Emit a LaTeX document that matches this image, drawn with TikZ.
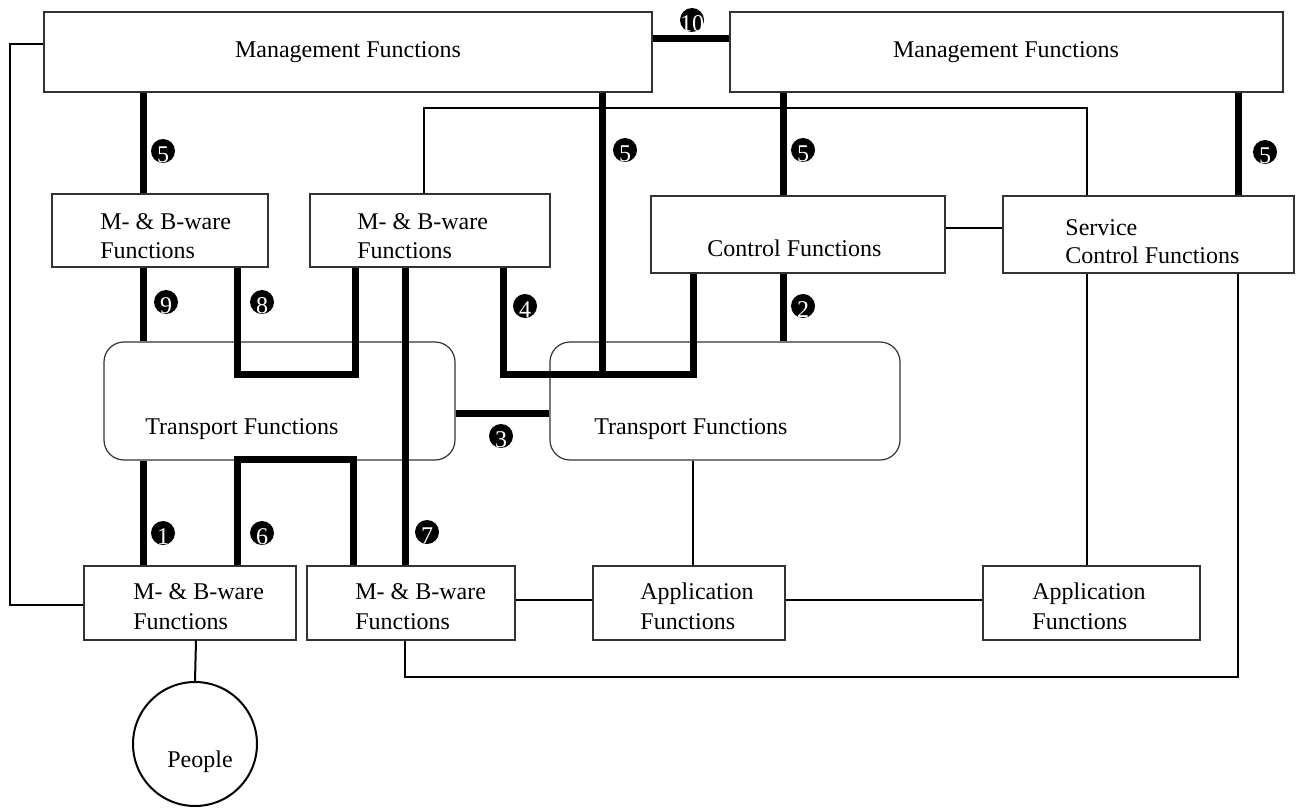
\documentclass[tikz,border=0pt]{standalone}
\usepackage{fontspec}
\setmainfont{Liberation Serif}
\newcommand\mybox[6]{\node[#1, minimum width={(#5-#3)*0.5pt}, minimum height={(#6-#4)*0.5pt}] (#2) at ({(#3+#5)/2},{(#4+#6)/2}) {};}
\begin{document}
\begin{tikzpicture}[x=0.5pt,y=-0.5pt,
  box/.style={draw=black!80, line width=0.6pt, fill=white, inner sep=0pt, rectangle},
  tbox/.style={box, rounded corners=10pt},
  lbl/.style={font=\fontsize{12pt}{14pt}\selectfont, inner sep=0pt, anchor=base west},
  clbl/.style={lbl, anchor=base},
  conn/.style={line width=1pt},
  fat/.style={line width=3.5pt},
  num/.style={circle, fill=black, minimum size=12pt, inner sep=0pt},
  numtxt/.style={text=white, font=\fontsize{12pt}{14pt}\selectfont, inner sep=0pt}
]
\useasboundingbox (0,0) rectangle (1296,808);

% boxes
\mybox{box}{mgl}{44}{12}{652}{92}
\mybox{box}{mgr}{730}{12}{1283}{92}
\mybox{box}{mtl}{52}{194}{268}{267}
\mybox{box}{mtm}{310}{194}{550}{267}
\mybox{box}{ctl}{651}{196}{945}{273}
\mybox{box}{scf}{1003}{196}{1294}{273}
\mybox{tbox}{trl}{104}{342}{455}{460}
\mybox{tbox}{trr}{550}{342}{900}{460}
\mybox{box}{mbl}{84}{566}{296}{640}
\mybox{box}{mbm}{307}{566}{515}{640}
\mybox{box}{ap1}{593}{566}{785}{640}
\mybox{box}{ap2}{983}{566}{1200}{640}
\node[circle, draw=black, line width=1pt, minimum size=62pt, inner sep=0pt] (ppl) at (195,744) {};

% labels
\node[clbl] (tmgl) at (348,58) {Management Functions};
\node[clbl] (tmgr) at (1006,58) {Management Functions};
\node[lbl] (tmtl1) at (100,229) {M- \& B-ware};
\node[lbl] (tmtl2) at (100,258) {Functions};
\node[lbl] (tmtm1) at (357,229) {M- \& B-ware};
\node[lbl] (tmtm2) at (357,258) {Functions};
\node[lbl] (tctl) at (707,256) {Control Functions};
\node[lbl] (tscf1) at (1065,235) {Service};
\node[lbl] (tscf2) at (1065,263) {Control Functions};
\node[lbl] (ttrl) at (145,434) {Transport Functions};
\node[lbl] (ttrr) at (594,434) {Transport Functions};
\node[lbl] (tmbl1) at (133,599) {M- \& B-ware};
\node[lbl] (tmbl2) at (133,629) {Functions};
\node[lbl] (tmbm1) at (355,599) {M- \& B-ware};
\node[lbl] (tmbm2) at (355,629) {Functions};
\node[lbl] (tap11) at (640,599) {Application};
\node[lbl] (tap12) at (640,629) {Functions};
\node[lbl] (tap21) at (1032,599) {Application};
\node[lbl] (tap22) at (1032,629) {Functions};
\node[lbl] (tppl) at (167,767) {People};

% helper coordinates
\coordinate (P1) at (10,44);
\coordinate (P2) at (10,605);
\foreach \x in {143,196,237,353,355,405,424,503,602,693,783,1087,1238}{\coordinate (X\x) at (\x,0);}
\foreach \y in {39,108,228,374,413,459,600,677}{\coordinate (Y\y) at (0,\y);}

% thin connectors
\draw[conn] (mgl.west |- P1) -- (P1) -- (P2) -- (mbl.west |- P2);
\draw[conn] (mtm.north -| X424) -- (X424 |- Y108) -- (X1087 |- Y108) -- (scf.north -| X1087);
\draw[conn] (ctl.east |- Y228) -- (scf.west |- Y228);
\draw[conn] (trr.south -| X693) -- (ap1.north -| X693);
\draw[conn] (mbm.east |- Y600) -- (ap1.west |- Y600);
\draw[conn] (ap1.east |- Y600) -- (ap2.west |- Y600);
\draw[conn] (scf.south -| X1087) -- (ap2.north -| X1087);
\draw[conn] (scf.south -| X1238) -- (X1238 |- Y677) -- (X405 |- Y677) -- (mbm.south -| X405);
\draw[conn] (mbl.south -| X196) -- (ppl.north);

% thick connectors
\draw[fat] (mgl.east |- Y39) -- (mgr.west |- Y39);
\draw[fat] (mgl.south -| X143) -- (mtl.north -| X143);
\draw[fat] (mtl.south -| X143) -- (trl.north -| X143);
\draw[fat] (mtl.south -| X237) -- (X237 |- Y374) -- (X355 |- Y374) -- (mtm.south -| X355);
\draw[fat] (mtm.south -| X503) -- (X503 |- Y374) -- (X693 |- Y374) -- (ctl.south -| X693);
\draw[fat] (mgl.south -| X602) -- (X602 |- Y374);
\draw[fat] (mgr.south -| X783) -- (ctl.north -| X783);
\draw[fat] (ctl.south -| X783) -- (trr.north -| X783);
\draw[fat] (mgr.south -| X1238) -- (scf.north -| X1238);
\draw[fat] (trl.east |- Y413) -- (trr.west |- Y413);
\draw[fat] (trl.south -| X143) -- (mbl.north -| X143);
\draw[fat] (mbl.north -| X237) -- (X237 |- Y459) -- (X353 |- Y459) -- (mbm.north -| X353);
\draw[fat] (mtm.south -| X405) -- (mbm.north -| X405);

% numbered markers
\foreach \n/\x/\y in {10/692/20, 5a/163/151, 5b/625/150, 5c/803/150, 5d/1265/152,
  9/166/302, 8/262/302, 4/525/306, 2/803/306, 3/501/436, 1/163/533, 6/262/533, 7/427/532}{
  \node[num] (m\n) at (\x,\y) {};
}
\node[numtxt] (k10) at ([yshift=-2pt]m10.center) {10};
\node[numtxt] (k5a) at ([yshift=-2pt]m5a.center) {5};
\node[numtxt] (k5b) at ([yshift=-2pt]m5b.center) {5};
\node[numtxt] (k5c) at ([yshift=-2pt]m5c.center) {5};
\node[numtxt] (k5d) at ([yshift=-2pt]m5d.center) {5};
\node[numtxt] (k9) at ([yshift=-2pt]m9.center) {9};
\node[numtxt] (k8) at ([yshift=-2pt]m8.center) {8};
\node[numtxt] (k4) at ([yshift=-2pt]m4.center) {4};
\node[numtxt] (k2) at ([yshift=-2pt]m2.center) {2};
\node[numtxt] (k3) at ([yshift=-2pt]m3.center) {3};
\node[numtxt] (k1) at ([yshift=-2pt]m1.center) {1};
\node[numtxt] (k6) at ([yshift=-2pt]m6.center) {6};
\node[numtxt] (k7) at ([yshift=-2pt]m7.center) {7};
\end{tikzpicture}
\end{document}
